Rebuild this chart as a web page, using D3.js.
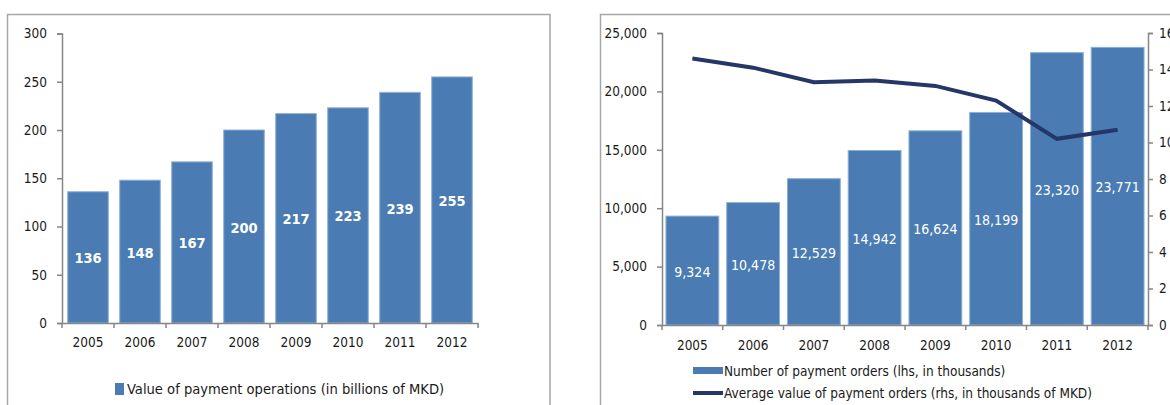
<!DOCTYPE html>
<html>
<head>
<meta charset="utf-8">
<script src="https://cdn.jsdelivr.net/npm/d3@7"></script>
<style>
  body { margin: 0; background: white; }
  text { font-family: "DejaVu Sans Condensed", "DejaVu Sans", Verdana, sans-serif; font-stretch: condensed; fill: #1a1a1a; }
</style>
</head>
<body>
<script>
// data
let years = ["2005", "2006", "2007", "2008", "2009", "2010", "2011", "2012"]
let paymentValue = [136, 148, 167, 200, 217, 223, 239, 255]
let paymentOrders = [9324, 10478, 12529, 14942, 16624, 18199, 23320, 23771]
let avgValue = [14.6, 14.1, 13.3, 13.4, 13.1, 12.3, 10.2, 10.7]
let leftTicks = [0, 50, 100, 150, 200, 250, 300]
let ordersTicks = [0, 5000, 10000, 15000, 20000, 25000]
let avgTicks = [0, 2, 4, 6, 8, 10, 12, 14, 16]

let barColor = "#4a7cb3"
let barEdge = "#8fb0d6"
let lineColor = "#253668"
let axisColor = "#868686"

let svg = d3.select("body")
  .append("svg")
    .attr("width", 1170)
    .attr("height", 405)

// panel frames
svg.append("rect")
  .attr("x", 7.5).attr("y", 14.5)
  .attr("width", 542.5).attr("height", 420)
  .attr("fill", "none").attr("stroke", "#a6a6a6").attr("stroke-width", 1.5)
svg.append("rect")
  .attr("x", 600.5).attr("y", 14.5)
  .attr("width", 620).attr("height", 420)
  .attr("fill", "none").attr("stroke", "#a6a6a6").attr("stroke-width", 1.5)

function styleAxis(g) {
  g.selectAll("path, line").attr("stroke", axisColor).attr("stroke-width", 1.5)
  g.selectAll("text").attr("font-size", 13.5).attr("fill", "#1a1a1a")
}

// ---- left chart ----
let x1 = d3.scaleBand().domain(years).range([62, 478]).paddingInner(0.22).paddingOuter(0.11)
let y1 = d3.scaleLinear().domain([0, 300]).range([323, 33.5])

let left = svg.append("g")

left.selectAll("rect.bar")
  .data(years)
  .join("rect")
    .attr("class", "bar")
    .attr("x", d => x1(d))
    .attr("width", x1.bandwidth())
    .attr("y", (d, i) => y1(paymentValue[i]))
    .attr("height", (d, i) => y1(0) - y1(paymentValue[i]))
    .attr("fill", barColor)
    .attr("stroke", barEdge)
    .attr("stroke-width", 1)

left.selectAll("text.lbl")
  .data(years)
  .join("text")
    .attr("class", "lbl")
    .attr("x", d => x1(d) + x1.bandwidth() / 2)
    .attr("y", (d, i) => (y1(paymentValue[i]) + y1(0)) / 2 + 6)
    .attr("text-anchor", "middle")
    .attr("font-size", 14.5)
    .attr("font-weight", "bold")
    .style("fill", "white")
    .text((d, i) => paymentValue[i])

left.append("g")
  .attr("transform", "translate(62,0)")
  .call(d3.axisLeft(y1).tickValues(leftTicks).tickSize(5).tickPadding(10))
  .call(styleAxis)

let xAx1 = left.append("g")
  .attr("transform", "translate(0,323)")
  .call(d3.axisBottom(x1).tickSize(0).tickPadding(14))
  .call(styleAxis)
// category separators
xAx1.selectAll("line.sep")
  .data(d3.range(years.length + 1))
  .join("line")
    .attr("class", "sep")
    .attr("x1", i => 62 + i * 52).attr("x2", i => 62 + i * 52)
    .attr("y1", 0).attr("y2", 5)
    .attr("stroke", axisColor).attr("stroke-width", 1.5)

left.append("rect")
  .attr("x", 115).attr("y", 383).attr("width", 9).attr("height", 12)
  .attr("fill", barColor)
left.append("text")
  .attr("x", 127).attr("y", 394)
  .attr("font-size", 14.6)
  .text("Value of payment operations (in billions of MKD)")

// ---- right chart ----
let x2 = d3.scaleBand().domain(years).range([662, 1148]).paddingInner(0.13).paddingOuter(0.065)
let y2 = d3.scaleLinear().domain([0, 25000]).range([325, 33])
let y3 = d3.scaleLinear().domain([0, 16]).range([325, 33])

let right = svg.append("g")

right.selectAll("rect.bar")
  .data(years)
  .join("rect")
    .attr("class", "bar")
    .attr("x", d => x2(d))
    .attr("width", x2.bandwidth())
    .attr("y", (d, i) => y2(paymentOrders[i]))
    .attr("height", (d, i) => y2(0) - y2(paymentOrders[i]))
    .attr("fill", barColor)
    .attr("stroke", barEdge)
    .attr("stroke-width", 1)

right.selectAll("text.lbl")
  .data(years)
  .join("text")
    .attr("class", "lbl")
    .attr("x", d => x2(d) + x2.bandwidth() / 2)
    .attr("y", (d, i) => (y2(paymentOrders[i]) + y2(0)) / 2 + 6)
    .attr("text-anchor", "middle")
    .attr("font-size", 14)
    .style("fill", "white")
    .text((d, i) => d3.format(",")(paymentOrders[i]))

let line = d3.line()
  .x((d, i) => x2(years[i]) + x2.bandwidth() / 2)
  .y(d => y3(d))
right.append("path")
  .datum(avgValue)
  .attr("d", line)
  .attr("fill", "none")
  .attr("stroke", lineColor)
  .attr("stroke-width", 4)

right.append("g")
  .attr("transform", "translate(662,0)")
  .call(d3.axisLeft(y2).tickValues(ordersTicks).tickFormat(d3.format(",")).tickSize(5).tickPadding(10))
  .call(styleAxis)

right.append("g")
  .attr("transform", "translate(1148,0)")
  .call(d3.axisRight(y3).tickValues(avgTicks).tickSize(5).tickPadding(6))
  .call(styleAxis)

let xAx2 = right.append("g")
  .attr("transform", "translate(0,325)")
  .call(d3.axisBottom(x2).tickSize(0).tickPadding(15))
  .call(styleAxis)
xAx2.selectAll("line.sep")
  .data(d3.range(years.length + 1))
  .join("line")
    .attr("class", "sep")
    .attr("x1", i => 662 + i * x2.step()).attr("x2", i => 662 + i * x2.step())
    .attr("y1", 0).attr("y2", 5)
    .attr("stroke", axisColor).attr("stroke-width", 1.5)

right.append("rect")
  .attr("x", 693).attr("y", 367).attr("width", 30).attr("height", 7)
  .attr("fill", barColor)
right.append("text")
  .attr("x", 724).attr("y", 376)
  .attr("font-size", 13.5)
  .text("Number of payment orders (lhs, in thousands)")
right.append("line")
  .attr("x1", 693).attr("x2", 723).attr("y1", 393).attr("y2", 393)
  .attr("stroke", lineColor).attr("stroke-width", 4)
right.append("text")
  .attr("x", 724).attr("y", 397.5)
  .attr("font-size", 13.5)
  .text("Average value of payment orders (rhs, in thousands of MKD)")
</script>
</body>
</html>
